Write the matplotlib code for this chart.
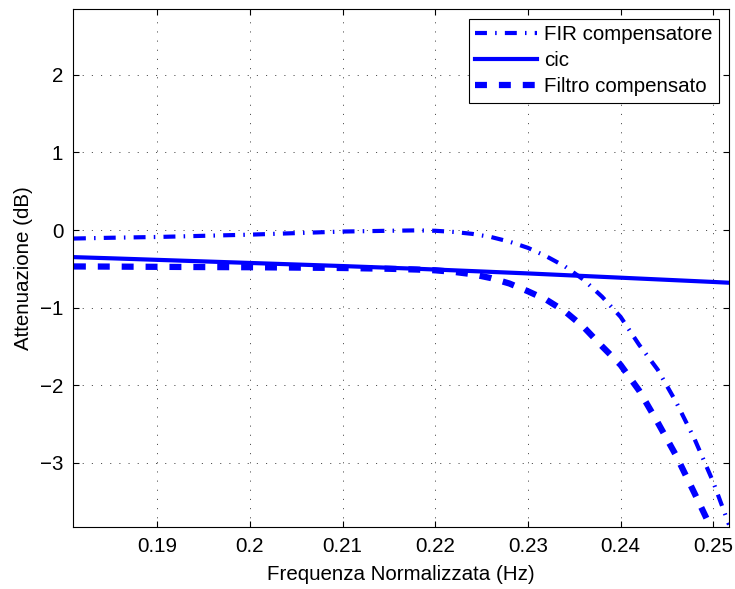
import matplotlib
matplotlib.use("Agg")
import matplotlib.pyplot as plt

plt.rcParams['font.family'] = ['Liberation Sans', 'DejaVu Sans']
plt.rcParams['lines.scale_dashes'] = False

# frequency grid (normalised)
freq = [0.181, 0.185, 0.19, 0.195, 0.2, 0.205, 0.21, 0.215, 0.218, 0.22,
        0.222, 0.224, 0.226, 0.228, 0.23, 0.232, 0.234, 0.236, 0.238, 0.24,
        0.242, 0.244, 0.246, 0.248, 0.25, 0.2517]

fir_comp = [-0.11, -0.10, -0.09, -0.075, -0.06, -0.04, -0.02, -0.01, -0.005, -0.01,
            -0.025, -0.05, -0.09, -0.15, -0.23, -0.34, -0.47, -0.64, -0.86, -1.12,
            -1.48, -1.80, -2.22, -2.70, -3.25, -3.80]

cic = [-0.35, -0.365, -0.385, -0.405, -0.425, -0.445, -0.465, -0.487, -0.50, -0.51,
       -0.52, -0.53, -0.54, -0.55, -0.56, -0.571, -0.582, -0.593, -0.604, -0.615,
       -0.626, -0.637, -0.648, -0.659, -0.67, -0.68]

filtro_comp = [-0.47, -0.472, -0.475, -0.478, -0.48, -0.485, -0.49, -0.50, -0.51, -0.52,
               -0.54, -0.57, -0.62, -0.69, -0.79, -0.90, -1.05, -1.25, -1.50, -1.74,
               -2.07, -2.48, -2.91, -3.40, -3.90, -4.30]

x_ticks = [0.19, 0.2, 0.21, 0.22, 0.23, 0.24, 0.25]
x_tick_labels = ['0.19', '0.2', '0.21', '0.22', '0.23', '0.24', '0.25']
y_ticks = [-3, -2, -1, 0, 1, 2]

fs = 14.8

fig = plt.figure(figsize=(7.35, 5.89), dpi=100)
ax = fig.add_axes([0.0993, 0.1053, 0.8925, 0.8794])

ax.plot(freq, fir_comp, color='#0000ff', lw=3.0, dashes=(8.6, 5.9, 1.1, 5.9),
        label='FIR compensatore')
ax.plot(freq, cic, color='#0000ff', lw=3.0, label='cic')
ax.plot(freq, filtro_comp, color='#0000ff', lw=4.5, dashes=(8.6, 8.6),
        label='Filtro compensato')

ax.set_xlim(0.1809, 0.2517)
ax.set_ylim(-3.83, 2.85)
ax.set_xticks(x_ticks)
ax.set_xticklabels(x_tick_labels)
ax.set_yticks(y_ticks)

ax.grid(True, color='#333333', lw=0.6, dashes=(0.8, 5.8))
ax.tick_params(direction='in', length=4, width=0.8, top=True, right=True,
               labelsize=fs, pad=7)
for s in ax.spines.values():
    s.set_linewidth(0.8)

ax.set_xlabel('Frequenza Normalizzata (Hz)', fontsize=fs, labelpad=7)
ax.set_ylabel('Attenuazione (dB)', fontsize=fs, labelpad=5)

leg = ax.legend(loc='upper right', fontsize=fs, fancybox=False, framealpha=1,
                edgecolor='k', handlelength=3.0, handletextpad=0.35,
                labelspacing=0.34, borderpad=0.3, borderaxespad=0.5)
leg.get_frame().set_linewidth(0.8)

fig.savefig('out.png', dpi=100)
